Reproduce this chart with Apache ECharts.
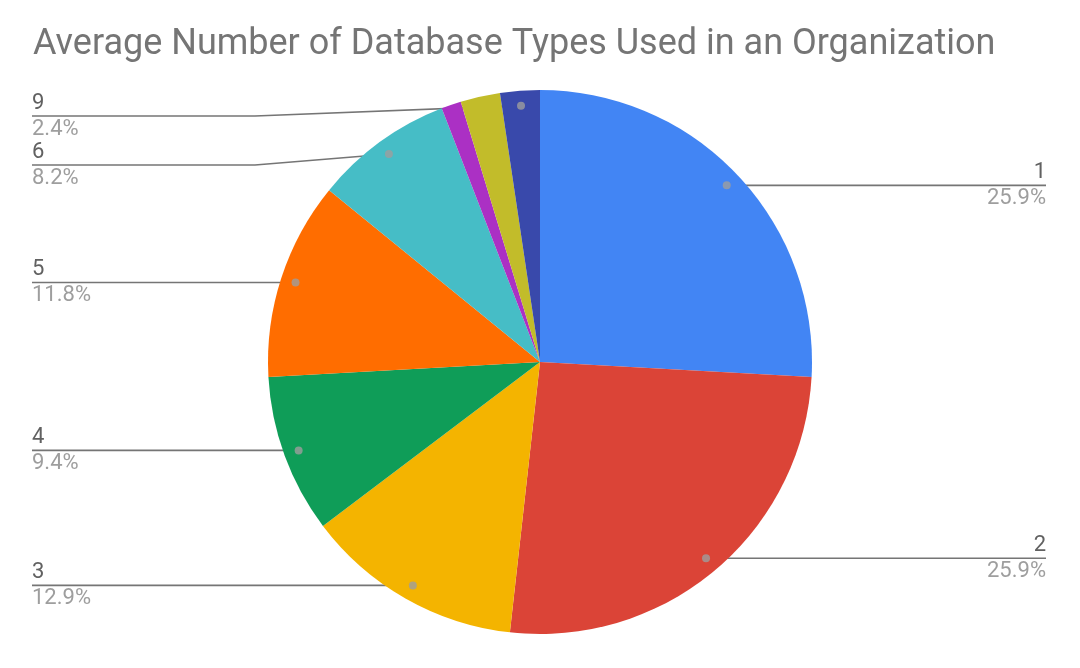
<!DOCTYPE html>
<html><head><meta charset="utf-8">
<script src="https://cdn.jsdelivr.net/npm/echarts@6/dist/echarts.min.js"></script>
<style>html,body{margin:0;padding:0;background:#fff}#c{width:1080px;height:668px}</style>
</head><body><div id="c"></div>
<script>
const titleText = 'Average Number of Database Types Used in an Organization';
const categories = ['1', '2', '3', '4', '5', '6', '7', '8', '9'];
const counts = [22, 22, 11, 8, 10, 7, 1, 2, 2];
const colors = ['#4285F4', '#DB4437', '#F4B400', '#0F9D58', '#FF6D00', '#46BDC6', '#AB30C4', '#C2BC2A', '#3949AB'];
const hiddenLabels = ['7', '8'];

const CX = 540, CY = 362, R = 272, DOT = 0.945;
const total = counts.reduce((a, b) => a + b, 0);
const mids = [];
let acc = 0;
counts.forEach(v => { mids.push(acc + v / 2); acc += v; });
function dotPos(i) {
  const a = mids[i] / total * 2 * Math.PI;
  return [CX + R * DOT * Math.sin(a), CY - R * DOT * Math.cos(a)];
}
const labelY = {};
(function () {
  const left = [], right = [];
  categories.forEach((c, i) => {
    if (hiddenLabels.includes(c)) return;
    const p = dotPos(i);
    (p[0] < CX ? left : right).push({ i, y: p[1] });
  });
  [left, right].forEach(arr => {
    arr.sort((a, b) => a.y - b.y);
    let prev = -Infinity;
    arr.forEach(o => { const y = Math.max(o.y, 116, prev + 49); labelY[o.i] = y; prev = y; });
  });
})();

const pieData = categories.map((c, i) => {
  const item = { name: c, value: counts[i], itemStyle: { color: colors[i] } };
  if (hiddenLabels.includes(c)) { item.label = { show: false }; item.labelLine = { show: false }; }
  return item;
});
const dotData = categories.map((c, i) => hiddenLabels.includes(c) ? null : [DOT, mids[i]]).filter(d => d);

const chart = echarts.init(document.getElementById('c'), null, { renderer: 'canvas' });
chart.setOption({
  animation: false,
  backgroundColor: '#ffffff',
  title: {
    text: titleText, left: 28, top: 22,
    textStyle: { fontFamily: 'Roboto', fontSize: 36, fontWeight: 'normal', color: '#757575' }
  },
  polar: { center: [CX, CY], radius: R },
  angleAxis: { type: 'value', min: 0, max: total, startAngle: 90, clockwise: true, show: false },
  radiusAxis: { type: 'value', min: 0, max: 1, show: false },
  series: [
    {
      type: 'pie', center: [CX, CY], radius: [0, R], startAngle: 90, clockwise: true,
      data: pieData, silent: true, z: 2,
      label: {
        show: true, fontFamily: 'Roboto',
        formatter: p => '{n|' + p.name + '}\n{p|' + (p.value / total * 100).toFixed(1) + '%}',
        rich: {
          n: { fontFamily: 'Roboto', fontSize: 22, color: '#616161', lineHeight: 26 },
          p: { fontFamily: 'Roboto', fontSize: 22, color: '#9e9e9e', lineHeight: 26 }
        }
      },
      labelLine: { show: true, lineStyle: { color: '#757575', width: 1.6 } },
      labelLayout: function (p) {
        const i = p.dataIndex;
        const d = dotPos(i);
        const left = d[0] < CX;
        const y = labelY[i];
        const endX = left ? 32 : 1046;
        const bendX = left ? 255 : 825;
        return {
          x: endX, y: y, align: left ? 'left' : 'right', verticalAlign: 'middle',
          labelLinePoints: [d, [bendX, y], [endX, y]]
        };
      }
    },
    {
      type: 'scatter', coordinateSystem: 'polar', data: dotData, symbolSize: 8, silent: true, z: 5,
      itemStyle: { color: '#9e9e9e' }
    }
  ]
});
</script>
</body></html>
